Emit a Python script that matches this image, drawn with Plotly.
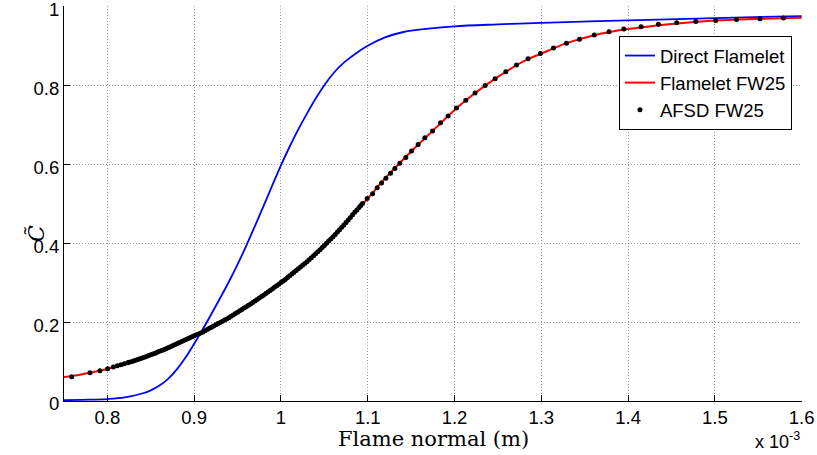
import plotly.graph_objects as go

# x in units of 1e-3 m
direct_x = [0.75, 0.77, 0.80, 0.82, 0.84, 0.85, 0.86, 0.87, 0.88, 0.89, 0.90, 0.91, 0.92, 0.93,
            0.94, 0.95, 0.96, 0.97, 0.98, 0.99, 1.00, 1.01, 1.02, 1.03, 1.04, 1.05, 1.06, 1.07,
            1.08, 1.09, 1.10, 1.12, 1.14, 1.17, 1.20, 1.25, 1.30, 1.40, 1.50, 1.60]
direct_c = [0.002, 0.003, 0.005, 0.009, 0.019, 0.027, 0.039, 0.056, 0.080, 0.110, 0.145, 0.182,
            0.221, 0.261, 0.302, 0.346, 0.393, 0.443, 0.494, 0.546, 0.597, 0.644, 0.688, 0.728,
            0.766, 0.800, 0.829, 0.852, 0.870, 0.886, 0.900, 0.921, 0.934, 0.943, 0.949, 0.954,
            0.958, 0.964, 0.970, 0.975]

flamelet_x = [0.75, 0.76, 0.78, 0.80, 0.82, 0.85, 0.88, 0.90, 0.92, 0.95, 0.98, 1.00, 1.02, 1.05,
              1.08, 1.10, 1.12, 1.15, 1.18, 1.20, 1.22, 1.25, 1.28, 1.30, 1.33, 1.36, 1.40, 1.45,
              1.50, 1.55, 1.60]
flamelet_c = [0.061, 0.0635, 0.0717, 0.081, 0.095, 0.117, 0.145, 0.165, 0.187, 0.225, 0.268, 0.300,
              0.335, 0.394, 0.465, 0.513, 0.564, 0.632, 0.695, 0.737, 0.774, 0.821, 0.861, 0.880,
              0.907, 0.926, 0.942, 0.955, 0.964, 0.968, 0.971]

# AFSD FW25 samples: sparse start, dense middle, sparse tail
afsd_x_start = [0.7589, 0.7799, 0.7914, 0.8003, 0.8068, 0.8114, 0.8156, 0.8194, 0.8233]
afsd_c_start = [0.0615, 0.0717, 0.0767, 0.0818, 0.0861, 0.0894, 0.0919, 0.0944, 0.0970]

afsd_x_mid = [0.825, 0.8275, 0.830, 0.8325, 0.835, 0.8375, 0.840, 0.8425, 0.845, 0.8475,
              0.850, 0.8525, 0.855, 0.8575, 0.860, 0.8625, 0.865, 0.8675, 0.870, 0.8725,
              0.875, 0.8775, 0.880, 0.8825, 0.885, 0.8875, 0.890, 0.8925, 0.895, 0.8975,
              0.900, 0.9025, 0.905, 0.9075, 0.910, 0.9125, 0.915, 0.9175, 0.920, 0.9225,
              0.925, 0.9275, 0.930, 0.9325, 0.935, 0.9375, 0.940, 0.9425, 0.945, 0.9475,
              0.950, 0.9525, 0.955, 0.9575, 0.960, 0.9625, 0.965, 0.9675, 0.970, 0.9725,
              0.975, 0.9775, 0.980, 0.9825, 0.985, 0.9875, 0.990, 0.9925, 0.995, 0.9975,
              1.000, 1.0025, 1.005, 1.0075, 1.010, 1.0125, 1.015, 1.0175, 1.020, 1.0225,
              1.025, 1.0275, 1.030, 1.0325, 1.035, 1.0375, 1.040, 1.0425, 1.045, 1.0475,
              1.050, 1.0525, 1.055, 1.0575, 1.060, 1.0625, 1.065, 1.0675, 1.070, 1.0725,
              1.075, 1.0775, 1.080, 1.0825, 1.085, 1.0875, 1.090, 1.092]
afsd_c_mid = [0.098, 0.0995, 0.101, 0.103, 0.105, 0.107, 0.109, 0.111, 0.113, 0.115,
              0.117, 0.119, 0.121, 0.1235, 0.126, 0.128, 0.130, 0.1325, 0.135, 0.1375,
              0.140, 0.1425, 0.145, 0.1475, 0.150, 0.1525, 0.155, 0.1575, 0.160, 0.1625,
              0.165, 0.1675, 0.170, 0.1725, 0.175, 0.178, 0.181, 0.184, 0.187, 0.190,
              0.193, 0.196, 0.199, 0.202, 0.205, 0.208, 0.211, 0.2145, 0.218, 0.2215,
              0.225, 0.2285, 0.232, 0.2355, 0.239, 0.2425, 0.246, 0.2495, 0.253, 0.257,
              0.261, 0.2645, 0.268, 0.272, 0.276, 0.280, 0.284, 0.288, 0.292, 0.296,
              0.300, 0.304, 0.308, 0.3125, 0.317, 0.3215, 0.326, 0.3305, 0.335, 0.3395,
              0.344, 0.3485, 0.353, 0.358, 0.363, 0.368, 0.373, 0.378, 0.383, 0.3885,
              0.394, 0.3995, 0.405, 0.4105, 0.416, 0.422, 0.428, 0.434, 0.440, 0.446,
              0.452, 0.4585, 0.465, 0.4715, 0.478, 0.484, 0.490, 0.495]

afsd_x_tail = [1.0940, 1.0993, 1.1056, 1.1109, 1.1159, 1.1209, 1.1263, 1.1313, 1.1370, 1.1439,
               1.1505, 1.1581, 1.1658, 1.1747, 1.1839, 1.1926, 1.2023, 1.2130, 1.2237, 1.2353,
               1.2468, 1.2591, 1.2714, 1.2848, 1.299, 1.314, 1.329, 1.344, 1.361, 1.378, 1.395,
               1.415, 1.435, 1.456, 1.478, 1.501, 1.525, 1.552, 1.579]
afsd_c_tail = [0.5005, 0.513, 0.525, 0.540, 0.552, 0.564, 0.577, 0.589, 0.602, 0.617,
               0.633, 0.650, 0.667, 0.684, 0.705, 0.722, 0.742, 0.762, 0.780, 0.799,
               0.816, 0.834, 0.851, 0.867, 0.880, 0.894, 0.906, 0.916, 0.927, 0.935, 0.942,
               0.948, 0.954, 0.958, 0.961, 0.964, 0.966, 0.968, 0.970]

x_ticks = [0.8, 0.9, 1.0, 1.1, 1.2, 1.3, 1.4, 1.5, 1.6]
y_ticks = [0, 0.2, 0.4, 0.6, 0.8, 1]

sans = "Liberation Sans, Arial, Helvetica, sans-serif"
serif = "DejaVu Serif, serif"

fig = go.Figure()
fig.add_trace(go.Scatter(x=direct_x, y=direct_c, mode="lines", name="Direct Flamelet",
                         line=dict(color="#0000ff", width=1.8, shape="spline", smoothing=1)))
fig.add_trace(go.Scatter(x=flamelet_x, y=flamelet_c, mode="lines", name="Flamelet FW25",
                         line=dict(color="#ff0000", width=2, shape="spline", smoothing=1)))
fig.add_trace(go.Scatter(x=afsd_x_start + afsd_x_mid + afsd_x_tail,
                         y=afsd_c_start + afsd_c_mid + afsd_c_tail,
                         mode="markers", name="AFSD FW25",
                         marker=dict(color="black", size=5, line=dict(width=0))))

axis_common = dict(showgrid=True, gridcolor="#9a9a9a", griddash="1px,2px", gridwidth=1,
                   showline=True, linecolor="black", linewidth=1, mirror=False,
                   ticks="inside", ticklen=6, tickcolor="black", tickwidth=1,
                   zeroline=False, ticklabeloverflow="allow", automargin=False,
                   tickfont=dict(family=sans, size=18.5, color="black"))

fig.update_xaxes(range=[0.75, 1.6004], tickvals=x_ticks, ticktext=[f"{v:g}" for v in x_ticks],
                 **axis_common)
fig.update_yaxes(range=[0, 1.0005], tickvals=y_ticks, ticktext=[f"{v:g}" for v in y_ticks],
                 ticklabelshift=3, **axis_common)

fig.update_layout(
    width=817, height=455,
    margin=dict(l=64, r=15, t=6, b=54, autoexpand=False),
    plot_bgcolor="white", paper_bgcolor="white",
    showlegend=True,
    legend=dict(x=0.9864, y=0.924, xanchor="right", yanchor="top",
                bgcolor="white", bordercolor="black", borderwidth=1,
                font=dict(family=sans, size=18.5, color="black"),
                itemwidth=30, tracegroupgap=0),
    annotations=[
        dict(text="Flame normal (m)", xref="paper", yref="paper", x=0.5, y=-0.097,
             xanchor="center", yanchor="middle", showarrow=False,
             font=dict(family=serif, size=21, color="black")),
        dict(text="<i>C\u0303</i>", xref="paper", yref="paper", x=-0.038, y=0.425,
             xanchor="center", yanchor="middle", showarrow=False, textangle=-90,
             font=dict(family=serif, size=22, color="black")),
        dict(text="x 10<sup>-3</sup>", xref="paper", yref="paper", x=1.0, y=-0.135,
             xanchor="right", yanchor="bottom", showarrow=False,
             font=dict(family=sans, size=18, color="black")),
    ],
)

fig.write_html("out.html",
               config={"displayModeBar": False},
               post_script="document.body.style.margin='0';"
                           "document.documentElement.style.overflow='hidden';")
